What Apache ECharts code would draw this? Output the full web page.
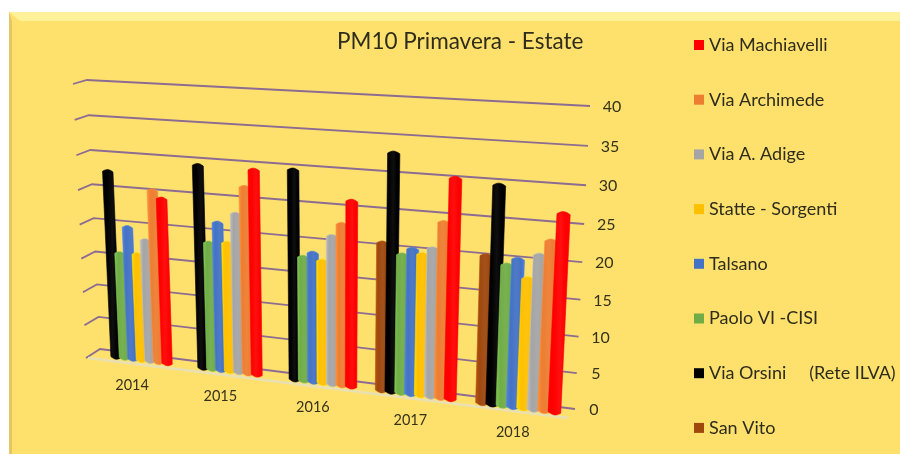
<!DOCTYPE html>
<html>
<head>
<meta charset="utf-8">
<style>html,body{margin:0;padding:0;background:#fff}#c{width:900px;height:454px;filter:blur(0.4px)}</style>
<script src="https://cdn.jsdelivr.net/npm/echarts@6/dist/echarts.min.js"></script>
</head>
<body>
<div id="c"></div>
<script>
var categories = ['2014', '2015', '2016', '2017', '2018'];
var yTicks = [0, 5, 10, 15, 20, 25, 30, 35, 40];
var sanVito     = [null, null, null, 21.0, 20.5];
var viaOrsini   = [28.0, 29.8, 30.1, 33.3, 30.0];
var paoloVI     = [16.0, 18.8, 18.0, 19.6, 19.5];
var talsano     = [20.0, 21.8, 18.7, 20.5, 20.4];
var statte      = [16.1, 19.0, 17.7, 19.9, 17.9];
var viaAdige    = [18.3, 23.3, 21.3, 20.8, 21.2];
var viaArchimede= [25.7, 27.2, 23.1, 24.5, 23.2];
var viaMachiavelli = [24.6, 29.7, 26.4, 30.5, 26.9];

var stations = [
  ['San Vito', sanVito, '#9E480E'],
  ['Via Orsini     (Rete ILVA)', viaOrsini, '#000000'],
  ['Paolo VI -CISI', paoloVI, '#70AD47'],
  ['Talsano', talsano, '#4472C4'],
  ['Statte - Sorgenti', statte, '#FFC000'],
  ['Via A. Adige', viaAdige, '#A5A5A5'],
  ['Via Archimede', viaArchimede, '#ED7D31'],
  ['Via Machiavelli', viaMachiavelli, '#FF0000']
];

// Perspective plane helpers (unit square -> quadrilateral)
function homography(p0, p1, p2, p3) {
  var dx1 = p1[0] - p2[0], dx2 = p3[0] - p2[0], sx = p0[0] - p1[0] + p2[0] - p3[0];
  var dy1 = p1[1] - p2[1], dy2 = p3[1] - p2[1], sy = p0[1] - p1[1] + p2[1] - p3[1];
  var den = dx1 * dy2 - dx2 * dy1;
  var g = (sx * dy2 - dx2 * sy) / den, h = (dx1 * sy - sx * dy1) / den;
  var a = p1[0] - p0[0] + g * p1[0], b = p3[0] - p0[0] + h * p3[0], c = p0[0];
  var d = p1[1] - p0[1] + g * p1[1], e = p3[1] - p0[1] + h * p3[1], f = p0[1];
  return function (u, v) {
    var w = g * u + h * v + 1;
    return [(a * u + b * v + c) / w, (d * u + e * v + f) / w];
  };
}
var barPlane = homography([94.5, 354.5], [571, 414.5], [586, 112.5], [81.5, 86.5]);
var wall = homography([100, 349], [575, 409], [590, 106], [87, 80]);
var GRID = {left: 90, top: 107, width: 490, height: 302};
function toU(px) { return (px - GRID.left) / GRID.width; }
function toV(py) { return (GRID.top + GRID.height - py) / GRID.height; }

var SLOTS = 8, CLUSTER = 0.79;
var textColor = '#35321a';
var font = 'Lato, "Open Sans", sans-serif';

function barRender(slot, color) {
  var dark = echarts.color.lift(color, -0.16);
  var light = echarts.color.lift(color, 0.06);
  return function (params, api) {
    var val = api.value(1);
    if (val == null || isNaN(val)) return;
    var pt = api.coord([api.value(0), val]);
    var catW = api.size([1, 0])[0] / GRID.width;
    var step = catW * CLUSTER / SLOTS;
    var u = toU(pt[0]) + (slot - (SLOTS - 1) / 2) * step;
    var v = toV(pt[1]);
    var hw = step * 0.6;
    var bl = barPlane(u - hw, 0), br = barPlane(u + hw, 0), tl = barPlane(u - hw, v), tr = barPlane(u + hw, v);
    var pts = [], i, t, s, N = 8;
    var ry = Math.abs(br[0] - bl[0]) * 0.2;
    for (i = 0; i <= N; i++) {           // top cap, left to right
      t = i / N; s = Math.sin(Math.PI * t);
      pts.push([tl[0] + (tr[0] - tl[0]) * t, tl[1] + (tr[1] - tl[1]) * t - ry * s]);
    }
    for (i = 0; i <= N; i++) {           // base, right to left
      t = i / N; s = Math.sin(Math.PI * t);
      pts.push([br[0] + (bl[0] - br[0]) * t, br[1] + (bl[1] - br[1]) * t + ry * s]);
    }
    return {
      type: 'polygon',
      shape: {points: pts},
      style: {
        fill: new echarts.graphic.LinearGradient(0, 0, 1, 0, [
          {offset: 0, color: dark}, {offset: 0.25, color: color},
          {offset: 0.55, color: light}, {offset: 0.8, color: color}, {offset: 1, color: dark}
        ]),
        stroke: dark, lineWidth: 0.6
      }
    };
  };
}

var series = [];
// gridlines behind the bars
series.push({
  type: 'custom', name: 'griglia', silent: true, z: 1,
  data: yTicks.map(function (t) { return [0, t]; }),
  encode: {x: 0, y: 1},
  renderItem: function (params, api) {
    var v = toV(api.coord([0, api.value(1)])[1]);
    var l = wall(0, v), r = wall(1, v);
    var stub = [l[0] - 14, l[1] + 4 + (1 - v) * 5];
    return {type: 'polyline', shape: {points: [stub, l, r]},
      style: {fill: 'none', stroke: '#8C6C92', lineWidth: 1.8}};
  }
});
// floor strip
series.push({
  type: 'custom', name: 'pavimento', silent: true, z: 1,
  data: [[0, 0]], encode: {x: 0, y: 1},
  renderItem: function (params, api) {
    var v = toV(api.coord([0, api.value(1)])[1]);
    var l = wall(0, v), r = wall(1, v);
    return {type: 'line', shape: {x1: l[0] - 12, y1: l[1] + 9, x2: r[0] - 7, y2: r[1] + 9},
      style: {stroke: '#E9E0B4', lineWidth: 2.4}};
  }
});
stations.forEach(function (st, k) {
  series.push({
    type: 'custom', name: st[0], z: 2 + k, itemStyle: {color: st[2]},
    data: st[1].map(function (v, i) { return [i, v]; }),
    encode: {x: 0, y: 1},
    renderItem: barRender(k, st[2])
  });
});
// value labels along the sloped axis
series.push({
  type: 'custom', name: 'assey', silent: true, z: 20,
  data: yTicks.map(function (t) { return [0, t]; }),
  encode: {x: 0, y: 1},
  renderItem: function (params, api) {
    var val = api.value(1);
    var r = wall(1, toV(api.coord([0, val])[1]));
    return {type: 'text', style: {x: r[0] + (val < 10 ? 19 : 22), y: r[1] + 1, text: String(val),
      fill: textColor, font: '16px ' + font, align: 'center', verticalAlign: 'middle'}};
  }
});
// category labels along the sloped floor
series.push({
  type: 'custom', name: 'assex', silent: true, z: 20,
  data: categories.map(function (c, i) { return [i, 0]; }),
  encode: {x: 0, y: 1},
  renderItem: function (params, api) {
    var p = api.coord([api.value(0), 0]);
    var b = barPlane(toU(p[0]), 0);
    return {type: 'text', style: {x: b[0] - 5, y: b[1] + 25, text: categories[params.dataIndex],
      fill: textColor, font: '14.5px ' + font, align: 'center', verticalAlign: 'middle'}};
  }
});

var chart = echarts.init(document.getElementById('c'), null, {renderer: 'canvas'});
chart.setOption({
  animation: false,
  backgroundColor: '#fff',
  title: {text: 'PM10 Primavera - Estate', left: 332, top: 25,
    textStyle: {fontFamily: font, fontSize: 22.5, fontWeight: 'normal', color: '#2e2c1c'}},
  tooltip: {show: false},
  legend: {
    orient: 'vertical', left: 689, top: 31, itemWidth: 10, itemHeight: 10, itemGap: 36.7,
    icon: 'rect',
    data: stations.map(function (s) { return s[0]; }).reverse(),
    textStyle: {fontFamily: font, fontSize: 18, color: '#2e2c1c', lineHeight: 18}
  },
  grid: {left: GRID.left, top: GRID.top, width: GRID.width, height: GRID.height},
  xAxis: {type: 'category', data: categories, show: false},
  yAxis: {type: 'value', min: 0, max: 40, interval: 5, show: false},
  graphic: [
    {type: 'rect', z: -10, shape: {x: 9, y: 12, width: 891, height: 442}, style: {fill: '#FEE16D'}},
    {type: 'polygon', z: -9, shape: {points: [[9, 12], [900, 12], [900, 21], [20, 21]]}, style: {fill: '#FFF09A'}},
    {type: 'polygon', z: -9, shape: {points: [[9, 12], [12, 21], [12, 454], [9, 454]]}, style: {fill: '#E6C565'}}
  ],
  series: series
});
</script>
</body>
</html>
